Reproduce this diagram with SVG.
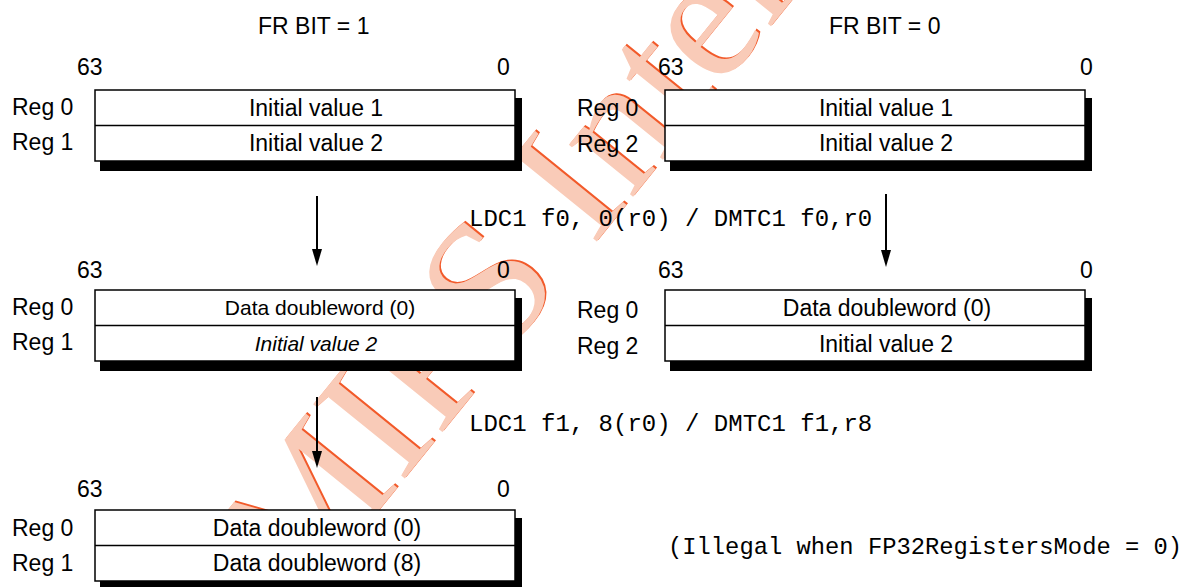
<svg xmlns="http://www.w3.org/2000/svg" width="1191" height="587" viewBox="0 0 1191 587">
<style>
.t{font-family:"Liberation Sans",Arial,sans-serif;font-size:23px;fill:#000}
.s21{font-size:21px}
.c{text-anchor:middle}
.it{font-style:italic}
.m{font-family:"Liberation Mono","Courier New",monospace;font-size:24px;fill:#000}
.m2{font-size:23.8px}
.box{fill:#fff;stroke:#000;stroke-width:1.5}
.sh{fill:#000}
.div{stroke:#000;stroke-width:1.5}
.arr{stroke:#000;stroke-width:2;fill:none;marker-end:url(#ah)}
.wm{font-family:"Liberation Serif","Times New Roman",serif;font-size:180px}
</style>
<defs>
<marker id="ah" markerUnits="userSpaceOnUse" markerWidth="18" markerHeight="10" refX="1" refY="5" orient="auto">
<path d="M0,0 L17,5 L0,10 z" fill="#000"/>
</marker>
</defs>
<rect width="1191" height="587" fill="#fff"/>
<g id="watermark">
<text class="wm" fill="#f25a2a" transform="translate(301.5,606.5) rotate(-51)">MIPS Internal</text>
<text class="wm" fill="#f9cbb8" transform="translate(300,608) rotate(-51)">MIPS Internal</text>
</g>
<g id="titles">
<text class="t" x="258" y="34">FR BIT = 1</text>
<text class="t" x="829" y="34">FR BIT = 0</text>
</g>
<g id="connectors">
<path class="arr" d="M317,196 V250"/>
<path class="arr" d="M886,194 V251"/>
<path class="arr" d="M317,397 V452"/>
</g>
<g id="instr">
<text class="m" x="469" y="226">LDC1 f0, 0(r0) / DMTC1 f0,r0</text>
<text class="m" x="469" y="431">LDC1 f1, 8(r0) / DMTC1 f1,r8</text>
<text class="m m2" x="668" y="554">(Illegal when FP32RegistersMode = 0)</text>
</g>
<g id="fr1-initial">
<text class="t" x="77" y="75">63</text>
<text class="t" x="497" y="75">0</text>
<text class="t" x="12" y="115">Reg 0</text>
<text class="t" x="12" y="150">Reg 1</text>
<rect class="sh" x="100" y="98" width="422" height="73"/>
<rect class="box" x="95" y="90" width="420" height="71"/>
<line class="div" x1="95" y1="125.5" x2="515" y2="125.5"/>
<text class="t c" x="316" y="116">Initial value 1</text>
<text class="t c" x="316" y="151">Initial value 2</text>
</g>
<g id="fr0-initial">
<text class="t" x="658" y="75">63</text>
<text class="t" x="1080" y="75">0</text>
<text class="t" x="577" y="116">Reg 0</text>
<text class="t" x="577" y="152">Reg 2</text>
<rect class="sh" x="670" y="98" width="422" height="73"/>
<rect class="box" x="665" y="90" width="420" height="71"/>
<line class="div" x1="665" y1="125.5" x2="1085" y2="125.5"/>
<text class="t c" x="886" y="116">Initial value 1</text>
<text class="t c" x="886" y="151">Initial value 2</text>
</g>
<g id="fr1-step1">
<text class="t" x="77" y="278">63</text>
<text class="t" x="497" y="278">0</text>
<text class="t" x="12" y="315">Reg 0</text>
<text class="t" x="12" y="350">Reg 1</text>
<rect class="sh" x="100" y="298" width="422" height="73"/>
<rect class="box" x="95" y="290" width="420" height="71"/>
<line class="div" x1="95" y1="325.5" x2="515" y2="325.5"/>
<text class="t s21 c" x="320" y="315">Data doubleword (0)</text>
<text class="t s21 c it" x="316" y="351">Initial value 2</text>
</g>
<g id="fr0-step1">
<text class="t" x="658" y="278">63</text>
<text class="t" x="1080" y="278">0</text>
<text class="t" x="577" y="318">Reg 0</text>
<text class="t" x="577" y="354">Reg 2</text>
<rect class="sh" x="670" y="298" width="422" height="73"/>
<rect class="box" x="665" y="290" width="420" height="71"/>
<line class="div" x1="665" y1="325.5" x2="1085" y2="325.5"/>
<text class="t c" x="887" y="316">Data doubleword (0)</text>
<text class="t c" x="886" y="352">Initial value 2</text>
</g>
<g id="fr1-step2">
<text class="t" x="77" y="497">63</text>
<text class="t" x="497" y="497">0</text>
<text class="t" x="12" y="536">Reg 0</text>
<text class="t" x="12" y="571">Reg 1</text>
<rect class="sh" x="100" y="518" width="422" height="73"/>
<rect class="box" x="95" y="510" width="420" height="71"/>
<line class="div" x1="95" y1="545.5" x2="515" y2="545.5"/>
<text class="t c" x="317" y="536">Data doubleword (0)</text>
<text class="t c" x="317" y="571">Data doubleword (8)</text>
</g>
</svg>
